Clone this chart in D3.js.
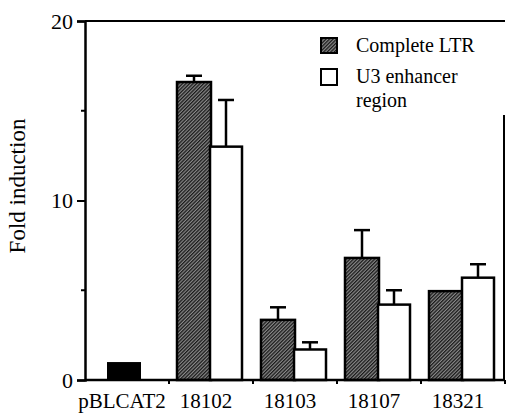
<!DOCTYPE html>
<html>
<head>
<meta charset="utf-8">
<script src="https://cdn.jsdelivr.net/npm/d3@7"></script>
<style>
  body { margin: 0; background: #fff; }
</style>
</head>
<body>
<svg width="508" height="413"></svg>
<script>
// Data
const categories = ["pBLCAT2", "18102", "18103", "18107", "18321"];
const seriesNames = ["Complete LTR", "U3 enhancer region"];
// complete LTR (pBLCAT2 is the single control bar)
const completeLTR = [1.0, 16.6, 3.35, 6.8, 4.95];
const completeErr = [0, 0.35, 0.7, 1.55, 0.05];
const u3Region = [null, 13.0, 1.7, 4.2, 5.7];
const u3Err = [null, 2.6, 0.4, 0.8, 0.75];
const yTicks = [0, 10, 20];
const yMinor = [5, 15];

const serif = "Liberation Serif";

const svg = d3.select("svg");
const margin = {left: 85, right: 3, top: 21, bottom: 33};
const width = 508, height = 413;

const x = d3.scaleBand().domain(categories)
    .range([margin.left, width - margin.right]);
const y = d3.scaleLinear().domain([0, 20]).range([height - margin.bottom, margin.top]);

// hatched fill for the complete LTR bars
const defs = svg.append("defs");
const pat = defs.append("pattern")
    .attr("id", "hatch")
    .attr("patternUnits", "userSpaceOnUse")
    .attr("width", 2.5).attr("height", 2.5)
    .attr("patternTransform", "rotate(45)");
pat.append("rect").attr("width", 2.5).attr("height", 2.5).attr("fill", "#8a8a8a");
pat.append("rect").attr("width", 1.3).attr("height", 2.5).attr("fill", "#1a1a1a");

const barW = 34;

const rows = categories.map((c, i) => ({
    cat: c, i: i,
    a: completeLTR[i], ae: completeErr[i],
    b: u3Region[i], be: u3Err[i]
}));

// error bars first so the bars sit on top of them
const errs = [];
rows.forEach(d => {
    if (d.i === 0) return;
    const cx = x(d.cat) + x.bandwidth() / 2;
    errs.push({cx: cx - barW / 2, v: d.a, e: d.ae});
    errs.push({cx: cx + barW / 2 - 2, v: d.b, e: d.be});
});

const eg = svg.append("g").attr("stroke", "#000").attr("stroke-width", 2.5);
errs.forEach(d => {
    if (d.e < 0.1) return;
    eg.append("line").attr("x1", d.cx).attr("x2", d.cx)
        .attr("y1", y(d.v)).attr("y2", y(d.v + d.e));
    eg.append("line").attr("x1", d.cx - 8).attr("x2", d.cx + 8)
        .attr("y1", y(d.v + d.e)).attr("y2", y(d.v + d.e));
});

const bg = svg.append("g");
rows.forEach(d => {
    const cx = x(d.cat) + x.bandwidth() / 2;
    if (d.i === 0) {
        bg.append("rect")
            .attr("x", cx - barW / 2 - 3).attr("width", barW)
            .attr("y", y(d.a)).attr("height", y(0) - y(d.a))
            .attr("fill", "#000");
        return;
    }
    bg.append("rect")
        .attr("x", cx - barW).attr("width", barW)
        .attr("y", y(d.a)).attr("height", y(0) - y(d.a))
        .attr("fill", "url(#hatch)").attr("stroke", "#000").attr("stroke-width", 2.5);
    bg.append("rect")
        .attr("x", cx - 1).attr("width", barW - 2)
        .attr("y", y(d.b)).attr("height", y(0) - y(d.b))
        .attr("fill", "#fff").attr("stroke", "#000").attr("stroke-width", 2.5);
});

// frame: top line and partial right border
svg.append("line")
    .attr("x1", margin.left).attr("x2", width - margin.right)
    .attr("y1", y(20)).attr("y2", y(20))
    .attr("stroke", "#000").attr("stroke-width", 2);
svg.append("line")
    .attr("x1", width - margin.right - 1).attr("x2", width - margin.right - 1)
    .attr("y1", 115).attr("y2", y(0))
    .attr("stroke", "#000").attr("stroke-width", 2);

// y axis
const yAxis = svg.append("g")
    .attr("transform", `translate(${margin.left},0)`)
    .call(d3.axisLeft(y).tickValues(yTicks).tickSize(8).tickPadding(4));
yAxis.attr("font-family", serif);
yAxis.select(".domain").attr("stroke-width", 2.5);
yAxis.selectAll(".tick line").attr("stroke-width", 2);
yAxis.selectAll(".tick text")
    .attr("font-family", serif).attr("font-size", 22);
yAxis.selectAll(".minor").data(yMinor).join("line")
    .attr("class", "minor")
    .attr("x1", -4).attr("x2", 0)
    .attr("y1", d => y(d)).attr("y2", d => y(d))
    .attr("stroke", "#000").attr("stroke-width", 2);

// x axis
const xAxis = svg.append("g")
    .attr("transform", `translate(0,${y(0)})`);
xAxis.append("line")
    .attr("x1", margin.left).attr("x2", width - margin.right)
    .attr("stroke", "#000").attr("stroke-width", 2.5);
const bounds = categories.slice(1).map(c => x(c)).concat([width - margin.right]);
xAxis.selectAll(".xt").data(bounds).join("line")
    .attr("class", "xt")
    .attr("x1", d => d).attr("x2", d => d)
    .attr("y1", 0).attr("y2", 4)
    .attr("stroke", "#000").attr("stroke-width", 2);
xAxis.selectAll(".xl").data(categories).join("text")
    .attr("class", "xl")
    .attr("x", d => x(d) + x.bandwidth() / 2 - 5)
    .attr("y", 28)
    .attr("text-anchor", "middle")
    .attr("font-family", serif)
    .attr("font-size", 21)
    .text(d => d);

// y label
svg.append("text")
    .attr("transform", `translate(25,${186}) rotate(-90)`)
    .attr("text-anchor", "middle")
    .attr("font-family", serif)
    .attr("font-size", 23)
    .text("Fold induction");

// legend
const lg = svg.append("g").attr("font-family", serif).attr("font-size", 20);
lg.append("rect").attr("x", 321).attr("y", 38).attr("width", 16).attr("height", 15)
    .attr("fill", "url(#hatch)").attr("stroke", "#000").attr("stroke-width", 2);
lg.append("rect").attr("x", 321).attr("y", 69).attr("width", 16).attr("height", 16)
    .attr("fill", "#fff").attr("stroke", "#000").attr("stroke-width", 2);
lg.append("text").attr("x", 356).attr("y", 52).text(seriesNames[0]);
lg.append("text").attr("x", 356).attr("y", 83).text("U3 enhancer");
lg.append("text").attr("x", 356).attr("y", 107).text("region");
</script>
</body>
</html>
